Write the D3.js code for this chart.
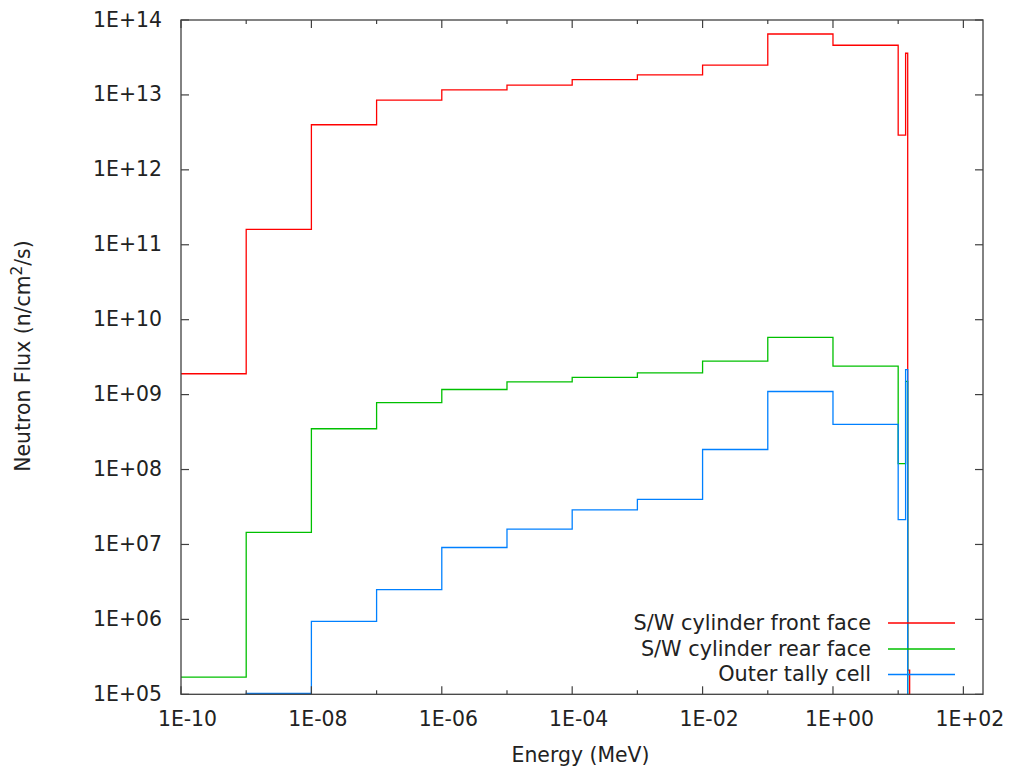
<!DOCTYPE html>
<html>
<head>
<meta charset="utf-8">
<script src="https://cdn.jsdelivr.net/npm/d3@7"></script>
<style>
  html, body { margin: 0; padding: 0; background: #fff; }
  svg { display: block; }
  text { font-family: "DejaVu Sans", sans-serif; fill: #222; }
</style>
</head>
<body>
<svg id="chart" width="1009" height="772"></svg>
<script>
// ---- data ----
const energyEdges = [1e-10, 1e-9, 1e-8, 1e-7, 1e-6, 1e-5, 1e-4, 1e-3, 1e-2, 1e-1, 1, 10, 13, 14, 15];
const seriesNames = ["S/W cylinder front face", "S/W cylinder rear face", "Outer tally cell"];
const frontFace = [1.9e9, 1.6e11, 4.0e12, 8.5e12, 1.17e13, 1.35e13, 1.6e13, 1.85e13, 2.5e13, 6.5e13, 4.6e13, 2.9e12, 3.6e13, 2.1e5];
const rearFace  = [1.7e5, 1.45e7, 3.5e8, 7.8e8, 1.17e9, 1.48e9, 1.7e9, 1.95e9, 2.8e9, 5.8e9, 2.4e9, 1.2e8, 1.5e9, 0];
const outerCell = [0, 1.03e5, 9.4e5, 2.5e6, 9.1e6, 1.6e7, 2.9e7, 4.0e7, 1.85e8, 1.1e9, 4.0e8, 2.15e7, 2.15e9, 0];
const seriesColors = ["#ff0000", "#00c000", "#0080ff"];
const xTickValues = [1e-10, 1e-9, 1e-8, 1e-7, 1e-6, 1e-5, 1e-4, 1e-3, 1e-2, 1e-1, 1, 10, 100];
const xTickLabels = ["1E-10", "", "1E-08", "", "1E-06", "", "1E-04", "", "1E-02", "", "1E+00", "", "1E+02"];
const yTickValues = [1e5, 1e6, 1e7, 1e8, 1e9, 1e10, 1e11, 1e12, 1e13, 1e14];
const yTickLabels = ["1E+05", "1E+06", "1E+07", "1E+08", "1E+09", "1E+10", "1E+11", "1E+12", "1E+13", "1E+14"];
const xDomain = [1e-10, 200];
const yDomain = [1e5, 1e14];

// ---- layout ----
const L = 181, R = 983, T = 20, B = 694.3;
const FS = 20.4;
const svg = d3.select("#chart");

const x = d3.scaleLog().domain(xDomain).range([L, R]);
const y = d3.scaleLog().domain(yDomain).range([B, T]);

svg.append("defs").append("clipPath").attr("id", "plotclip")
  .append("rect").attr("x", L).attr("y", T).attr("width", R - L).attr("height", B - T);

// series
const series = [frontFace, rearFace, outerCell];
const yVal = v => v > 0 ? y(v) : B + 40;
const line = d3.line().x(d => x(d[0])).y(d => yVal(d[1]));
const gLines = svg.append("g").attr("clip-path", "url(#plotclip)");
series.forEach((vals, si) => {
  const pts = [];
  vals.forEach((v, i) => {
    pts.push([energyEdges[i], v]);
    pts.push([energyEdges[i + 1], v]);
  });
  pts.push([energyEdges[energyEdges.length - 1], 0]);
  gLines.append("path")
    .attr("d", line(pts))
    .attr("fill", "none")
    .attr("stroke", seriesColors[si])
    .attr("stroke-width", 1.3);
});

// axes (ticks inward, mirrored)
const axisColor = "#404040";
const gAx = svg.append("g");
xTickValues.forEach((v, i) => {
  const len = xTickLabels[i] ? 8 : 4;
  const px = x(v);
  gAx.append("line").attr("x1", px).attr("x2", px).attr("y1", B).attr("y2", B - len)
    .attr("stroke", axisColor).attr("stroke-width", 1.2);
  gAx.append("line").attr("x1", px).attr("x2", px).attr("y1", T).attr("y2", T + len)
    .attr("stroke", axisColor).attr("stroke-width", 1.2);
  if (xTickLabels[i]) {
    gAx.append("text").attr("x", x(v) + 6.5).attr("y", 726)
      .attr("text-anchor", "middle").attr("font-size", FS).text(xTickLabels[i]);
  }
});
yTickValues.forEach((v, i) => {
  const py = y(v);
  gAx.append("line").attr("x1", L).attr("x2", L + 8).attr("y1", py).attr("y2", py)
    .attr("stroke", axisColor).attr("stroke-width", 1.2);
  gAx.append("line").attr("x1", R).attr("x2", R - 8).attr("y1", py).attr("y2", py)
    .attr("stroke", axisColor).attr("stroke-width", 1.2);
  gAx.append("text").attr("x", 162).attr("y", y(v) + 6.5)
    .attr("text-anchor", "end").attr("font-size", FS).text(yTickLabels[i]);
});
gAx.append("rect").attr("x", L).attr("y", T).attr("width", R - L).attr("height", B - T)
  .attr("fill", "none").attr("stroke", axisColor).attr("stroke-width", 1.3);

// axis titles
svg.append("text").attr("x", 580.5).attr("y", 761.5).attr("text-anchor", "middle")
  .attr("font-size", FS).text("Energy (MeV)");
const yt = svg.append("text").attr("transform", "translate(30,356) rotate(-90)")
  .attr("text-anchor", "middle").attr("font-size", FS);
yt.append("tspan").text("Neutron Flux (n/cm");
yt.append("tspan").attr("font-size", FS * 0.75).attr("dy", -8).text("2");
yt.append("tspan").attr("dy", 8).text("/s)");

// legend
const legY = [623, 649, 674.5];
seriesNames.forEach((name, i) => {
  svg.append("text").attr("x", 871).attr("y", legY[i] + 6.5).attr("text-anchor", "end")
    .attr("font-size", 20.8).text(name);
  svg.append("line").attr("x1", 888).attr("x2", 955).attr("y1", legY[i]).attr("y2", legY[i])
    .attr("stroke", seriesColors[i]).attr("stroke-width", 1.3);
});
</script>
</body>
</html>
